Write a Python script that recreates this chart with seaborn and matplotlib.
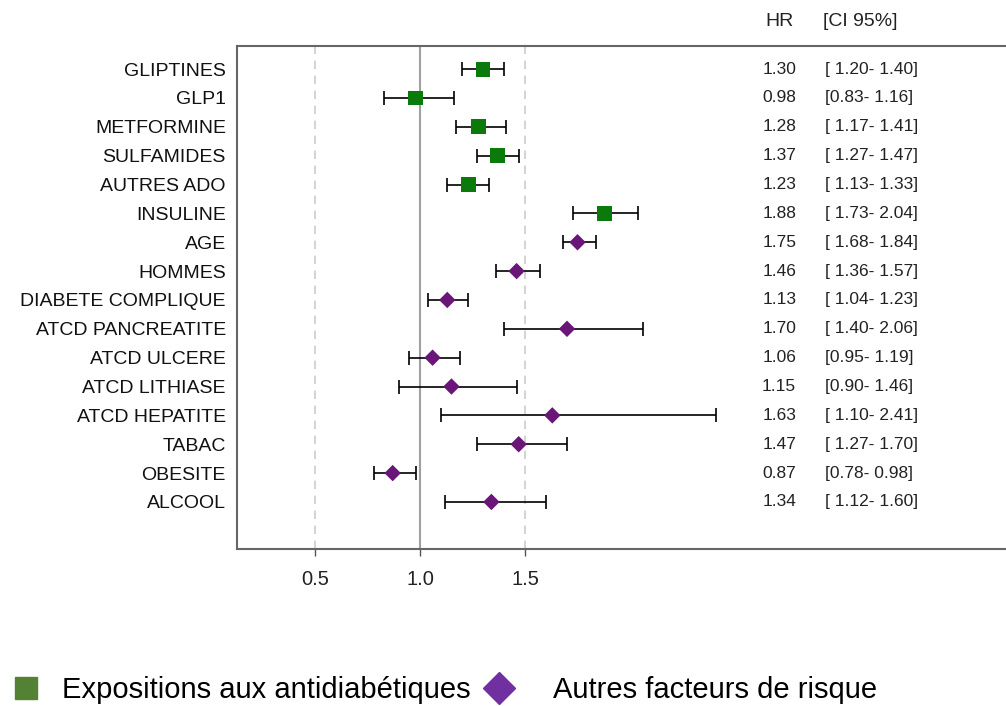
import matplotlib.pyplot as plt
import matplotlib.lines as mlines
import seaborn as sns
import pandas as pd

labels = ['GLIPTINES', 'GLP1', 'METFORMINE', 'SULFAMIDES', 'AUTRES ADO', 'INSULINE',
          'AGE', 'HOMMES', 'DIABETE COMPLIQUE', 'ATCD PANCREATITE', 'ATCD ULCERE',
          'ATCD LITHIASE', 'ATCD HEPATITE', 'TABAC', 'OBESITE', 'ALCOOL']
hr = [1.30, 0.98, 1.28, 1.37, 1.23, 1.88, 1.75, 1.46, 1.13, 1.70, 1.06, 1.15, 1.63, 1.47, 0.87, 1.34]
ci_low = [1.20, 0.83, 1.17, 1.27, 1.13, 1.73, 1.68, 1.36, 1.04, 1.40, 0.95, 0.90, 1.10, 1.27, 0.78, 1.12]
ci_high = [1.40, 1.16, 1.41, 1.47, 1.33, 2.04, 1.84, 1.57, 1.23, 2.06, 1.19, 1.46, 2.41, 1.70, 0.98, 1.60]
groups = ['Expositions aux antidiabétiques'] * 6 + ['Autres facteurs de risque'] * 10

df = pd.DataFrame({'label': labels, 'hr': hr, 'lo': ci_low, 'hi': ci_high, 'group': groups})
df['row'] = range(len(df))

sns.set_style('white')
plt.rcParams['font.family'] = ['Liberation Sans', 'DejaVu Sans']

fig = plt.figure(figsize=(10.06, 7.06), dpi=100)
ax = fig.add_axes([0.2356, 0.2224, 0.7644, 0.7124])

# reference lines
ax.axvline(1.0, color='#a0a0a0', lw=1.5, zorder=0)
for v in (0.5, 1.5):
    ax.axvline(v, color='#cccccc', lw=1.2, ls=(0, (5, 4)), zorder=0)

# confidence intervals
ax.errorbar(df['hr'], df['row'], xerr=[df['hr'] - df['lo'], df['hi'] - df['hr']],
            fmt='none', ecolor='black', elinewidth=1.2, capsize=5, capthick=1.2, zorder=1)

sns.scatterplot(data=df, x='hr', y='row', hue='group', style='group',
                palette={'Expositions aux antidiabétiques': '#0a7a0a',
                         'Autres facteurs de risque': '#6a1578'},
                markers={'Expositions aux antidiabétiques': 's',
                         'Autres facteurs de risque': 'D'},
                size='group', sizes={'Expositions aux antidiabétiques': 115,
                                     'Autres facteurs de risque': 70},
                linewidth=0, legend=False, zorder=3, ax=ax)

ax.set_xlim(0.129, 3.79)
ax.set_ylim(16.63, -0.8)
ax.set_xticks([0.5, 1.0, 1.5])
ax.set_xticklabels(['0.5', '1.0', '1.5'], fontsize=14.5, color='#222222')
ax.set_yticks(df['row'])
ax.set_yticklabels(df['label'], fontsize=14, color='#111111')
ax.tick_params(axis='y', left=False, pad=4.5)
ax.tick_params(axis='x', bottom=True, length=5, width=1, color='#555555', pad=10)
ax.set_xlabel('')
ax.set_ylabel('')
for side in ('left', 'top', 'bottom'):
    ax.spines[side].set_color('#666666')
    ax.spines[side].set_linewidth(1.5)
ax.spines['right'].set_visible(False)

# HR / CI text columns
for _, r in df.iterrows():
    ax.text(2.71, r['row'], f"{r['hr']:.2f}", ha='center', va='center', fontsize=12.5, color='#222222')
    lo = f"{r['lo']:.2f}" if r['lo'] < 1 else f" {r['lo']:.2f}"
    ax.text(2.93, r['row'], f"[{lo}- {r['hi']:.2f}]", ha='left', va='center', fontsize=12.5, color='#222222')
ax.text(2.71, -1.65, 'HR', ha='center', va='center', fontsize=14, color='#222222')
ax.text(2.92, -1.65, '[CI 95%]', ha='left', va='center', fontsize=14, color='#222222')

legend_font = {'size': 21}
h1 = mlines.Line2D([], [], marker='s', color='#548235', ls='none', markersize=16)
h2 = mlines.Line2D([], [], marker='D', color='#7030a0', ls='none', markersize=16)
leg1 = fig.legend([h1], ['Expositions aux antidiabétiques'], loc='center left',
                  bbox_to_anchor=(12 / 1006, 0.0227), frameon=False, prop=legend_font,
                  borderpad=0, borderaxespad=0, handlelength=0.95, handletextpad=0.77,
                  labelcolor='black')
leg2 = fig.legend([h2], ['Autres facteurs de risque'], loc='center left',
                  bbox_to_anchor=(485 / 1006, 0.0227), frameon=False, prop=legend_font,
                  borderpad=0, borderaxespad=0, handlelength=0.95, handletextpad=1.37,
                  labelcolor='black')

fig.savefig('out.png', dpi=100)
